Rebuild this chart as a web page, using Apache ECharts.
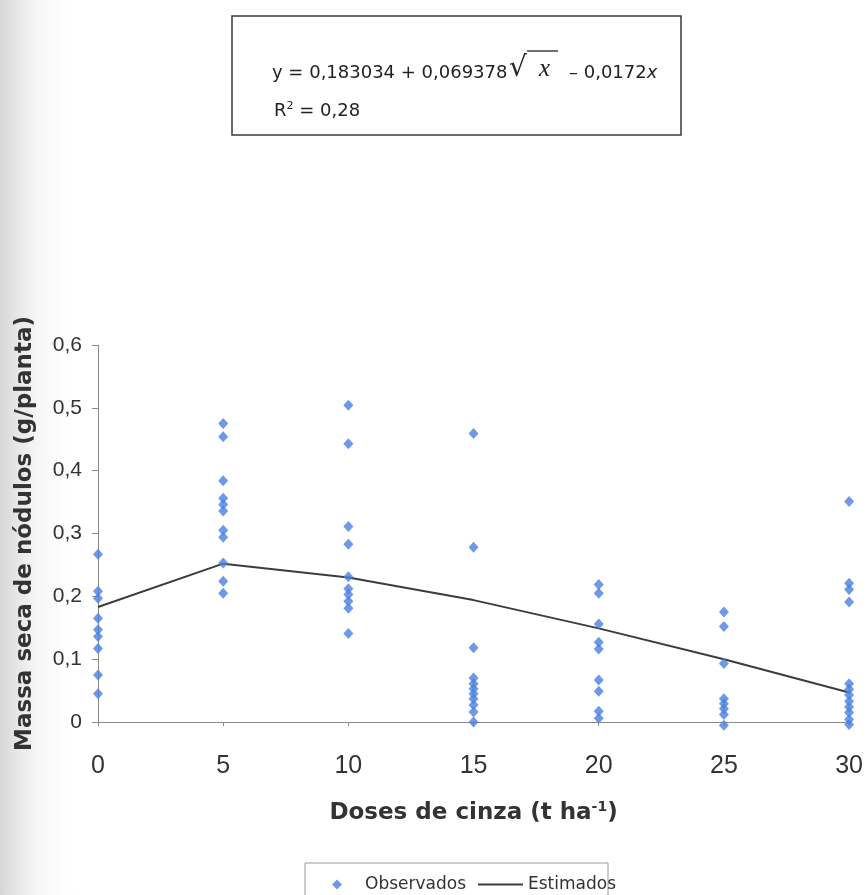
<!DOCTYPE html>
<html>
<head>
<meta charset="utf-8">
<script src="https://cdn.jsdelivr.net/npm/echarts@6/dist/echarts.min.js"></script>
<style>
  html, body { margin: 0; padding: 0; background: #ffffff; }
  #chart { width: 866px; height: 895px; }
</style>
</head>
<body>
<div id="chart"></div>
<script>
// Ash doses (t/ha) on the x axis
const doses = [0, 5, 10, 15, 20, 25, 30];

// Observed nodule dry mass (g/plant) for each dose
const obsDose0  = [0.267, 0.208, 0.197, 0.165, 0.147, 0.136, 0.117, 0.075, 0.045];
const obsDose5  = [0.475, 0.454, 0.384, 0.356, 0.346, 0.336, 0.305, 0.294, 0.253, 0.224, 0.205];
const obsDose10 = [0.504, 0.443, 0.311, 0.283, 0.231, 0.212, 0.203, 0.192, 0.181, 0.141];
const obsDose15 = [0.459, 0.278, 0.118, 0.070, 0.061, 0.053, 0.045, 0.037, 0.027, 0.016, 0.0];
const obsDose20 = [0.219, 0.205, 0.156, 0.127, 0.116, 0.067, 0.049, 0.017, 0.006];
const obsDose25 = [0.175, 0.152, 0.093, 0.037, 0.029, 0.021, 0.012, -0.005];
const obsDose30 = [0.351, 0.221, 0.211, 0.191, 0.061, 0.052, 0.043, 0.033, 0.024, 0.015, 0.004, -0.004];

// Fitted values at each dose
const estimated = [0.183, 0.252, 0.230, 0.194, 0.149, 0.100, 0.047];

// Axis ticks
const yTicks = [0, 0.1, 0.2, 0.3, 0.4, 0.5, 0.6];
const xTicks = doses;

const obsByDose = [obsDose0, obsDose5, obsDose10, obsDose15, obsDose20, obsDose25, obsDose30];
const observedPoints = [];
obsByDose.forEach((vals, i) => vals.forEach(v => observedPoints.push([doses[i], v])));
const estimatedPoints = doses.map((d, i) => [d, estimated[i]]);

const chart = echarts.init(document.getElementById('chart'), null, { renderer: 'canvas' });

const axisColor = '#8a8a8a';
const textColor = '#333333';
const font = '"Liberation Sans", Arial, sans-serif';
const wideFont = '"DejaVu Sans", Verdana, sans-serif';

chart.setOption({
  backgroundColor: '#ffffff',
  animation: false,
  grid: { left: 98, right: 16, top: 345, bottom: 173, containLabel: false },
  xAxis: {
    type: 'value',
    min: xTicks[0], max: xTicks[xTicks.length - 1], interval: 5,
    name: 'Doses de cinza (t ha{sup|-1})',
    nameLocation: 'middle',
    nameGap: 78,
    nameTextStyle: {
      fontFamily: wideFont, fontSize: 23, fontWeight: 'bold', color: textColor,
      rich: { sup: { fontFamily: wideFont, fontSize: 14, fontWeight: 'bold', color: textColor, verticalAlign: 'top', padding: [0, 0, 12, 0] } }
    },
    axisLine: { show: true, onZero: false, lineStyle: { color: axisColor, width: 1 } },
    axisTick: { show: true, length: 4, lineStyle: { color: axisColor } },
    axisLabel: { margin: 32, fontFamily: font, fontSize: 25, color: textColor },
    splitLine: { show: false }
  },
  yAxis: {
    type: 'value',
    min: yTicks[0], max: yTicks[yTicks.length - 1], interval: 0.1,
    name: 'Massa seca de nódulos (g/planta)',
    nameLocation: 'middle',
    nameRotate: 90,
    nameGap: 61,
    nameTextStyle: { fontFamily: wideFont, fontSize: 23, fontWeight: 'bold', color: textColor },
    axisLine: { show: true, lineStyle: { color: axisColor, width: 1 } },
    axisTick: { show: true, length: 6, lineStyle: { color: axisColor } },
    axisLabel: {
      margin: 16, fontFamily: font, fontSize: 21, color: textColor,
      formatter: v => (Math.round(v * 10) / 10).toString().replace('.', ',')
    },
    splitLine: { show: false }
  },
  legend: [
    {
      data: [{ name: 'Observados', icon: 'diamond' }],
      left: 327, top: 871,
      itemWidth: 10, itemHeight: 10,
      textStyle: { fontFamily: wideFont, fontSize: 17, color: textColor, padding: [0, 0, 0, 18] }
    },
    {
      data: [{ name: 'Estimados', icon: 'rect' }],
      left: 473, top: 871,
      itemWidth: 45, itemHeight: 2,
      textStyle: { fontFamily: wideFont, fontSize: 17, color: textColor }
    }
  ],
  graphic: [
    {
      type: 'rect', z: -10, silent: true,
      shape: { x: 0, y: 0, width: 80, height: 895 },
      style: {
        fill: new echarts.graphic.LinearGradient(0, 0, 1, 0, [
          { offset: 0, color: 'rgba(150,150,150,0.4)' },
          { offset: 0.5, color: 'rgba(190,190,190,0.12)' },
          { offset: 1, color: 'rgba(255,255,255,0)' }
        ])
      }
    },
    {
      type: 'rect', silent: true,
      shape: { x: 232, y: 16, width: 449, height: 119 },
      style: { fill: '#ffffff', stroke: '#3a3a3a', lineWidth: 1.5 }
    },
    {
      type: 'text', silent: true, left: 272, top: 64,
      style: { text: 'y = 0,183034 + 0,069378', font: '18px "DejaVu Sans", sans-serif', fill: '#222222' }
    },
    {
      type: 'text', silent: true, left: 509, top: 55,
      style: { text: '√', font: '28px "DejaVu Sans", sans-serif', fill: '#222222' }
    },
    {
      type: 'line', silent: true,
      shape: { x1: 527, y1: 51, x2: 558, y2: 51 },
      style: { stroke: '#222222', lineWidth: 1.3 }
    },
    {
      type: 'text', silent: true, left: 539, top: 57,
      style: { text: 'x', font: 'italic 25px "Liberation Serif", "Times New Roman", serif', fill: '#222222' }
    },
    {
      type: 'text', silent: true, left: 569, top: 64,
      style: {
        text: '– 0,0172{i|x}',
        font: '18px "DejaVu Sans", sans-serif', fill: '#222222',
        rich: { i: { font: 'italic 18px "DejaVu Sans", sans-serif', fill: '#222222' } }
      }
    },
    {
      type: 'text', silent: true, left: 274, top: 101,
      style: {
        text: 'R{s|2} = 0,28',
        font: '18px "DejaVu Sans", sans-serif', fill: '#222222',
        rich: { s: { font: '11px "DejaVu Sans", sans-serif', fill: '#222222', verticalAlign: 'top', padding: [0, 0, 10, 0] } }
      }
    },
    {
      type: 'rect', silent: true,
      shape: { x: 305, y: 863, width: 303, height: 40 },
      style: { fill: 'none', stroke: '#9a9a9a', lineWidth: 1 }
    }
  ],
  series: [
    {
      name: 'Observados',
      type: 'scatter',
      data: observedPoints,
      symbol: 'diamond',
      symbolSize: [10, 11],
      clip: false,
      itemStyle: { color: '#4a7fe0' },
      z: 3
    },
    {
      name: 'Estimados',
      type: 'line',
      data: estimatedPoints,
      symbol: 'none',
      clip: false,
      lineStyle: { color: '#3c3c3c', width: 2 },
      itemStyle: { color: '#3c3c3c' },
      z: 2
    }
  ]
});
</script>
</body>
</html>
